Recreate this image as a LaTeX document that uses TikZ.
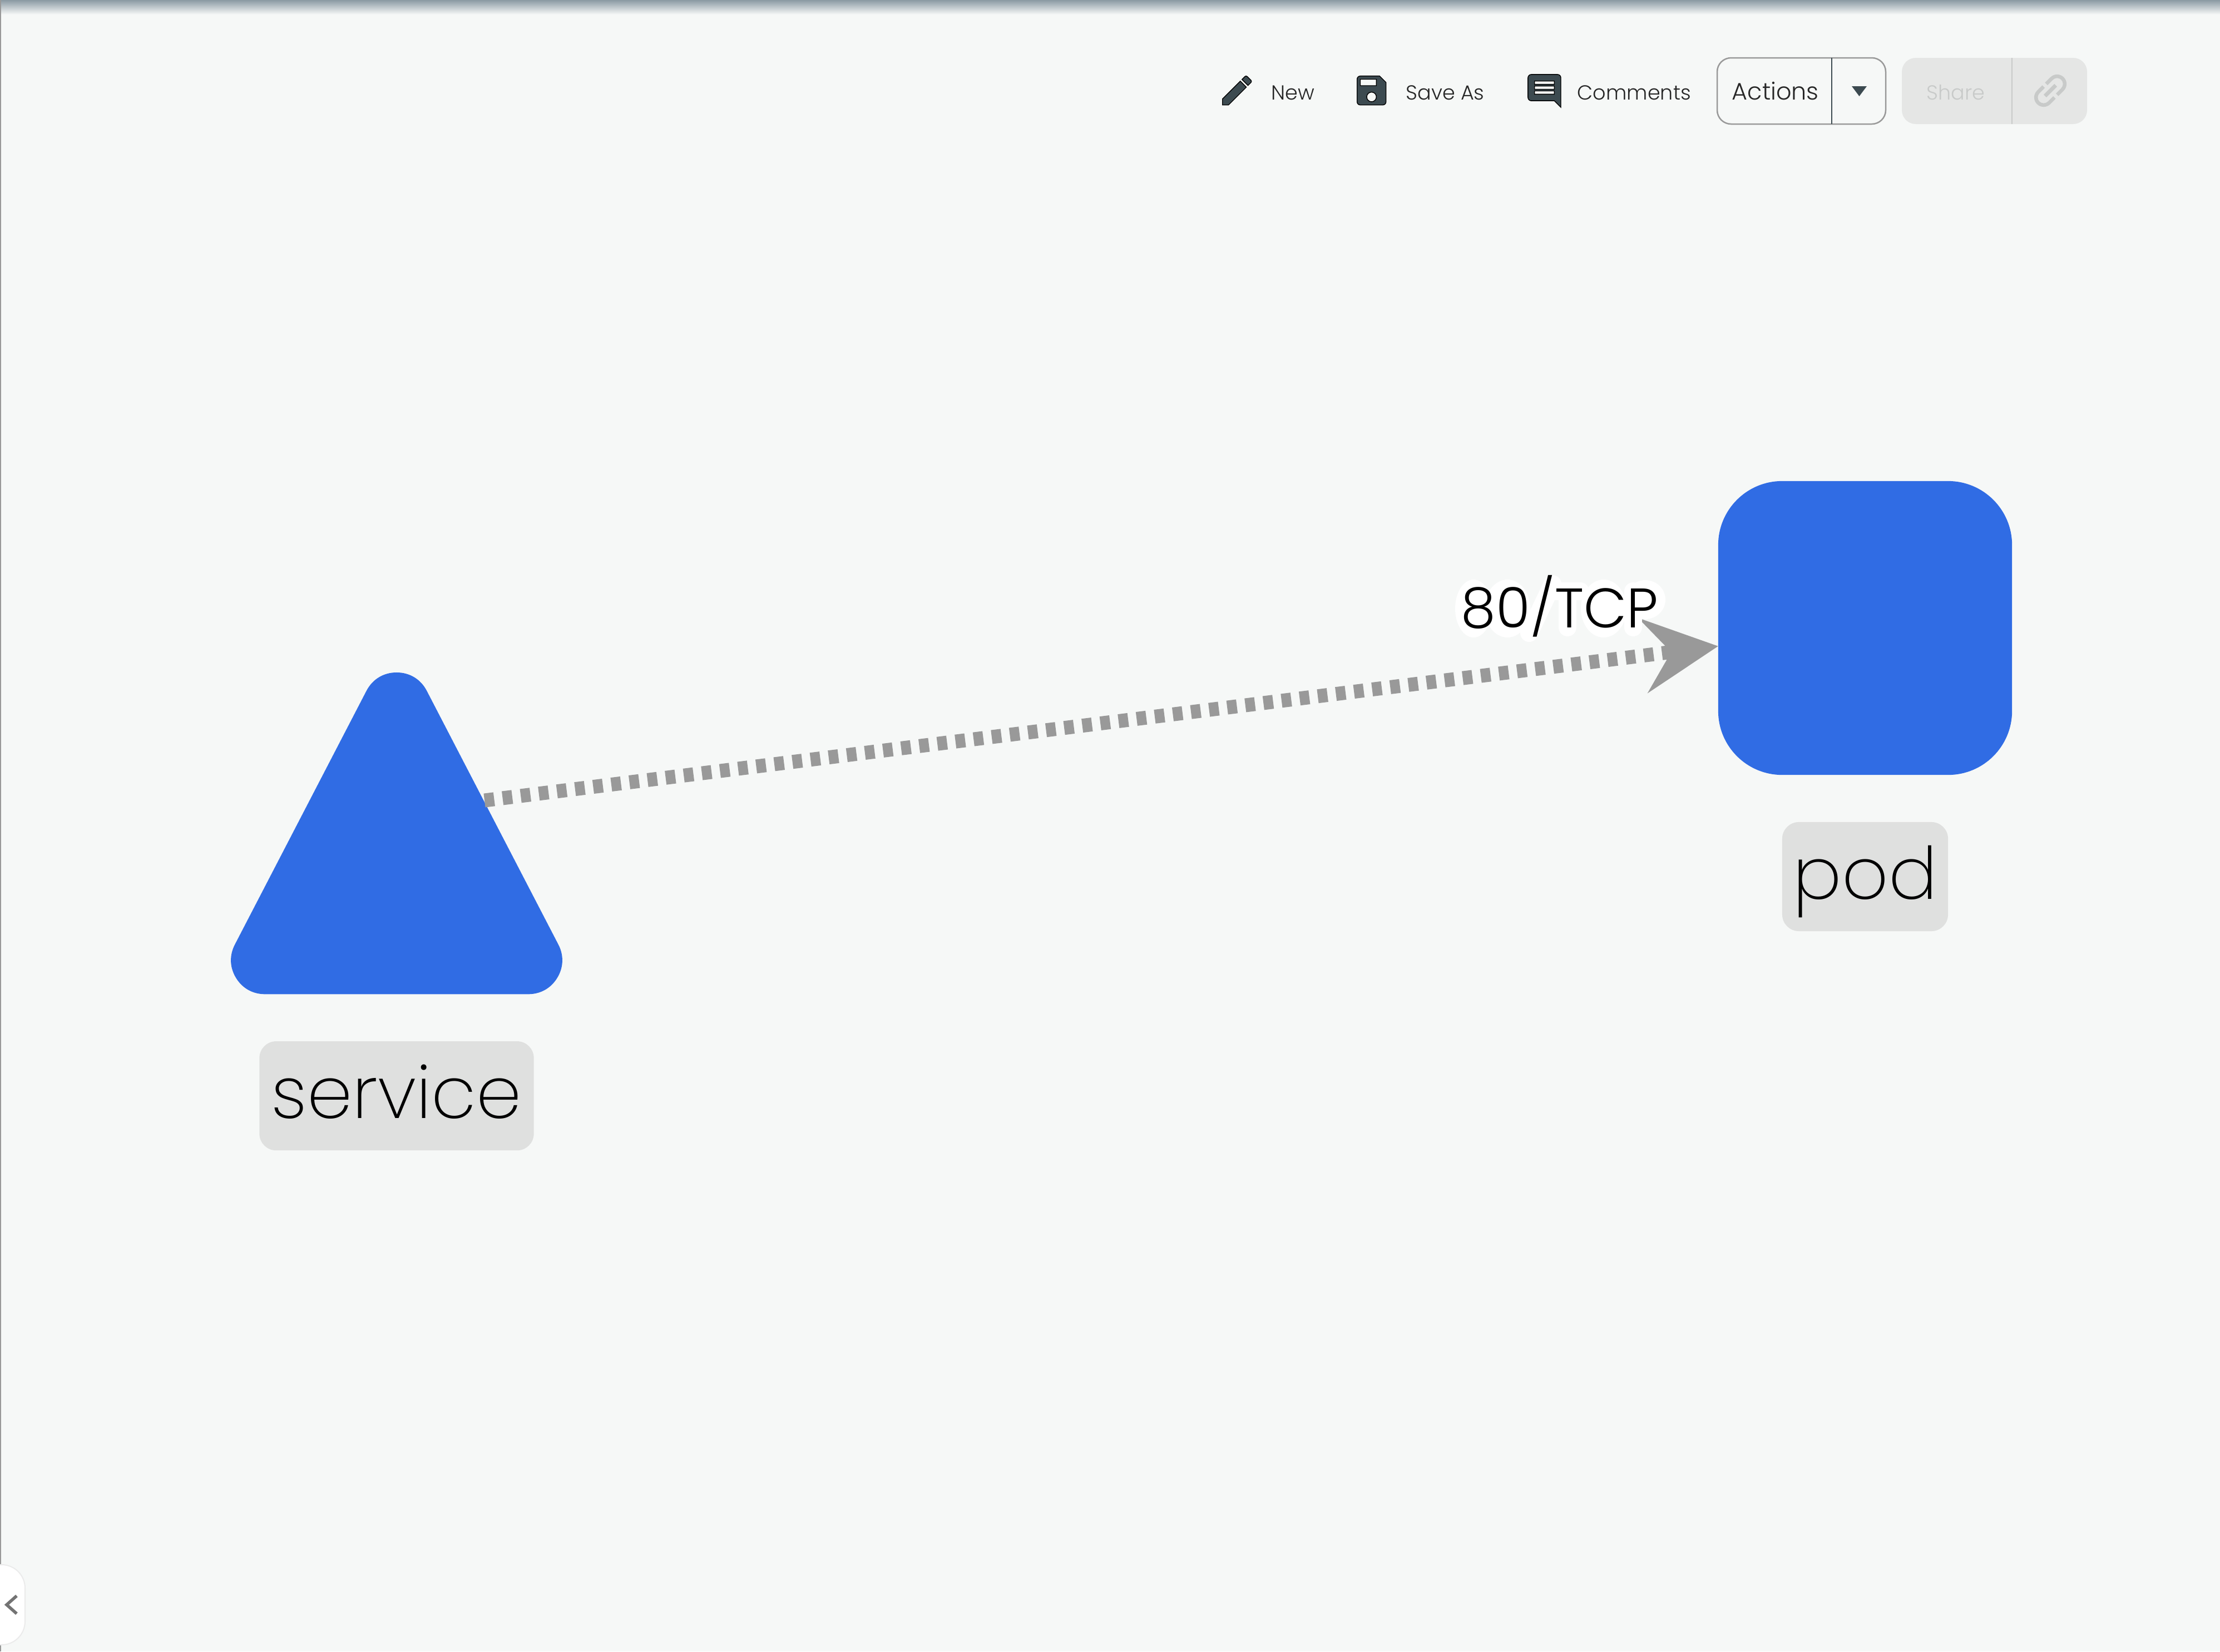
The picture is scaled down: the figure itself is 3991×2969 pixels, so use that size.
\documentclass[tikz,border=0pt]{standalone}
\usepackage{xcolor}
\usepackage{fontspec}
\setmainfont{Poppins}[UprightFont=* Light]
\newfontfamily\tagfont{Poppins}[UprightFont=* ExtraLight]
\usetikzlibrary{positioning, arrows.meta, shapes.geometric, svg.path}
\definecolor{pagebg}{HTML}{F6F8F7}
\definecolor{shapeblue}{HTML}{306CE4}
\definecolor{tagbg}{HTML}{DFE0DF}
\definecolor{flowgray}{HTML}{999999}
\definecolor{icondark}{HTML}{3C4A50}
\definecolor{offbg}{HTML}{E5E6E5}
\definecolor{offtext}{HTML}{C8CAC9}
\definecolor{edgetop}{HTML}{8A99A3}
\definecolor{edgemid}{HTML}{D5D9DA}
\tikzset{
    x=0.01cm, y=-0.01cm,                        % one unit is one pixel of the reference
    svcshape/.style={isosceles triangle, isosceles triangle stretches, shape border rotate=90,
        minimum width=4.73cm, minimum height=4.56cm, inner sep=0pt, outer sep=0pt,
        fill=shapeblue, draw=shapeblue, line width=1.22cm, line join=round},
    podshape/.style={rectangle, minimum size=5.28cm, inner sep=0pt, outer sep=0pt,
        fill=shapeblue, rounded corners=1.15cm},
    nametag/.style={rectangle, fill=tagbg, rounded corners=0.3cm, minimum height=1.96cm,
        inner sep=0pt, text height=0.8cm, text depth=0cm, font=\tagfont\fontsize{37}{37}\selectfont},
    flowedge/.style={-{Stealth[length=1.35cm, width=1.34cm, inset=0.5cm]}, flowgray,
        line width=0.25cm, dash pattern=on 0.175cm off 0.153cm},
    tcphalo/.style={white, line width=0.32cm, line cap=round, line join=round},
    toolword/.style={anchor=base west, inner sep=0pt, text=black!85, font=\fontsize{10.4}{10.4}\selectfont},
    toolicon/.style={fill=icondark, even odd rule},
    btnbox/.style={draw=flowgray, line width=0.025cm, rounded corners=0.25cm},
    offbox/.style={fill=offbg, rounded corners=0.25cm},
}
\begin{document}
\begin{tikzpicture}
\useasboundingbox (0,0) rectangle (3991,2969);
\fill[pagebg] (0,0) rectangle (3991,2969);
\shade[top color=edgetop, middle color=edgemid, bottom color=pagebg] (0,0) rectangle (3991,26);
\fill[gray!80] (0,0) rectangle (2,2969);

% diagram
\node[svcshape, anchor=apex] (service) at (713,1270) {};
\node[podshape] (pod) at (3353,1129) {};
\node[nametag, below=1.45cm of service.lower side, minimum width=4.93cm] (servicetag) {service};
\node[nametag, below=0.84cm of pod, minimum width=2.98cm] (podtag) {pod};
\coordinate (svcport) at (871,1439);
\draw[flowedge] (svcport) -- (pod);

% white rim behind the port label
\fill[white] (2649,1094) ellipse (0.33cm and 0.52cm);
\fill[white] (2710,1094) ellipse (0.41cm and 0.52cm);
\draw[tcphalo] (2791,1050) -- (2749,1138);
\draw[tcphalo] (2795,1063) -- (2841,1063) (2818,1063) -- (2818,1128);
\fill[white] (2883,1094) ellipse (0.41cm and 0.52cm);
\draw[tcphalo] (2936,1063) -- (2936,1128);
\fill[white] (2958,1078) ellipse (0.36cm and 0.35cm);
\node[anchor=base, inner sep=0pt, font=\fontsize{28.5}{28.5}\selectfont] (tcplabel) at (2804,1128) {80/TCP};

% toolbar
\draw[toolicon, shift={(2189,128)}, xscale=.822, yscale=-.822]
  svg {M 3 17.25 V 21 h 3.75 L 17.81 9.94 l -3.75 -3.75 L 3 17.25 z M 20.71 7.04 c 0.39 -0.39 0.39 -1.02 0 -1.41 l -2.34 -2.34 c -0.39 -0.39 -1.02 -0.39 -1.41 0 l -1.83 1.83 l 3.75 3.75 l 1.83 -1.83 z};
\draw[toolicon, shift={(2431,128)}, xscale=.822, yscale=-.822]
  svg {M 17 3 H 5 c -1.11 0 -2 0.9 -2 2 v 14 c 0 1.1 0.89 2 2 2 h 14 c 1.1 0 2 -0.9 2 -2 V 7 l -4 -4 z M 12 19 c -1.66 0 -3 -1.34 -3 -3 s 1.34 -3 3 -3 s 3 1.34 3 3 s -1.34 3 -3 3 z M 15 9 H 5 V 5 h 10 v 4 z};
\draw[toolicon, shift={(2741,128)}, xscale=.84, yscale=-.84]
  svg {M 21.99 4 c 0 -1.1 -0.89 -2 -1.99 -2 H 4 c -1.1 0 -2 0.9 -2 2 v 12 c 0 1.1 0.9 2 2 2 h 14 l 4 4 l -0.01 -18 z M 18 14 H 6 v -2 h 12 v 2 z M 18 11 H 6 V 9 h 12 v 2 z M 18 8 H 6 V 6 h 12 v 2 z};
\node[toolword] (newword) at (2285,179) {New};
\node[toolword] (saveword) at (2527,179) {Save As};
\node[toolword] (commentword) at (2835,179) {Comments};

\draw[btnbox] (3087,104) rectangle (3390,223);
\coordinate (btntop) at (3293,104);
\coordinate (btnbot) at (3293,223);
\draw[icondark, line width=0.025cm] (btntop) -- (btnbot);
\node[toolword, font=\fontsize{12.2}{12.2}\selectfont] (actionword) at (3113,179) {Actions};
\fill[icondark] (3329,155) -- (3356,155) -- (3342.5,173) -- cycle;

\fill[offbox] (3419,104) rectangle (3752,223);
\coordinate (offtop) at (3617,104);
\coordinate (offbot) at (3617,223);
\draw[offtext, line width=0.02cm] (offtop) -- (offbot);
\node[toolword, text=offtext] (shareword) at (3463,179) {Share};
\draw[fill=offtext, draw=none, even odd rule, shift={(3686,163)}, rotate=45, xscale=.97, yscale=-.97, shift={(-12pt,-12pt)}]
  svg {M 3.9 12 c 0 -1.71 1.39 -3.1 3.1 -3.1 h 4 V 7 H 7 c -2.76 0 -5 2.24 -5 5 s 2.24 5 5 5 h 4 v -1.9 H 7 c -1.71 0 -3.1 -1.39 -3.1 -3.1 z M 8 13 h 8 v -2 H 8 v 2 z M 17 7 h -4 v 1.9 h 4 c 1.71 0 3.1 1.39 3.1 3.1 s -1.39 3.1 -3.1 3.1 h -4 V 17 h 4 c 2.76 0 5 -2.24 5 -5 s -2.24 -5 -5 -5 z};

% side tab
\fill[white, draw=black!8, line width=0.02cm, rounded corners=0.42cm] (-60,2813) rectangle (45,2957);
\draw[black!55, line width=0.055cm] (30,2869) -- (12,2885) -- (30,2901);
\end{tikzpicture}
\end{document}
